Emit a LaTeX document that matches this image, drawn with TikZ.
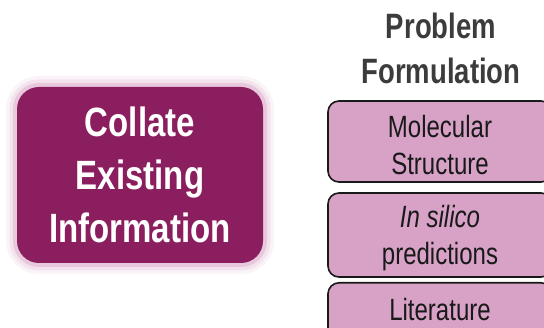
\documentclass[tikz,border=0pt]{standalone}
\usepackage{fontspec}
\setmainfont{Liberation Sans}
\usepackage{xcolor}
\usepackage{graphicx}
\usetikzlibrary{positioning}
\definecolor{plum}{RGB}{138,30,95}
\definecolor{glowpink}{RGB}{212,150,192}
\definecolor{lilac}{RGB}{215,162,198}
\definecolor{ink}{RGB}{60,60,60}
\newcommand{\tall}[1]{\scalebox{1}[1.24]{#1}}
\newcommand{\taller}[1]{\scalebox{1}[1.28]{#1}}
\tikzstyle{collate} = [draw=none, fill=plum, rounded corners=22pt, minimum width=246pt, minimum height=176pt, text=white, align=center, font=\fontsize{33}{53}\selectfont\bfseries, preaction={draw=glowpink, line width=22pt, opacity=0.1}, preaction={draw=glowpink, line width=15pt, opacity=0.18}, preaction={draw=glowpink, line width=8pt, opacity=0.35}]
\tikzstyle{stepbox} = [draw=black!90, line width=1.6pt, fill=lilac, rounded corners=11pt, minimum width=224pt, text=black!90, align=center, font=\fontsize{24}{37}\selectfont]

\begin{document}
\begin{tikzpicture}[x=1pt, y=-1pt]
\useasboundingbox (0,0) rectangle (544,328);
\clip (0,0) rectangle (544,328);
\fill[white] (0,0) rectangle (544,328);

\node at (140, 175) [collate] (collate) {\tall{Collate}\\\tall{Existing}\\\tall{Information}};

\node at (441, 48) [align=center, text=ink, font=\fontsize{27.5}{45}\selectfont\bfseries] (title) {\taller{Problem}\\\taller{Formulation}};

\node at (440, 141.5) [stepbox, minimum height=81pt, text height=67pt, text depth=0pt] (molecule) {\taller{Molecular}\\\taller{Structure}};
\node at (440, 235) [stepbox, minimum height=84pt, text height=60pt, text depth=0pt] (silico) {\taller{\itshape In silico}\\\taller{predictions}};
\node at (440, 282) [stepbox, anchor=north, inner ysep=15pt, text depth=30pt] (literature) {\taller{Literature}};
\end{tikzpicture}
\end{document}
